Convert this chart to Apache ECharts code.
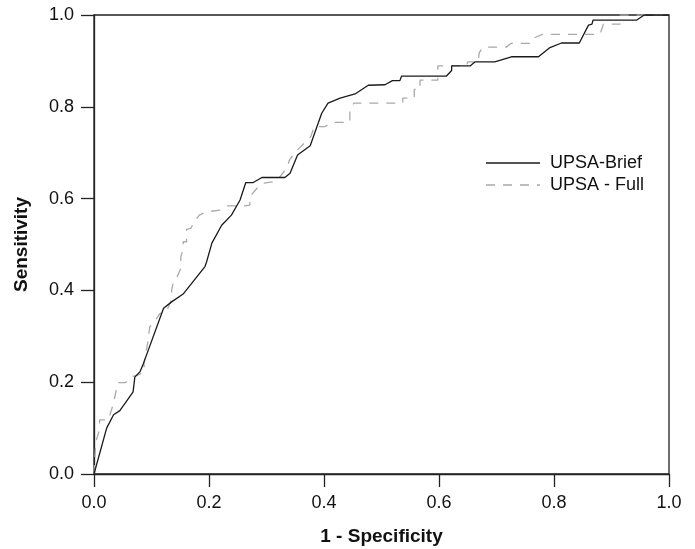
<!DOCTYPE html>
<html>
<head>
<meta charset="utf-8">
<script src="https://cdn.jsdelivr.net/npm/echarts@6/dist/echarts.min.js"></script>
<style>
html,body{margin:0;padding:0;background:#fff;}
#chart{width:695px;height:549px;}
</style>
</head>
<body>
<div id="chart"></div>
<script>
const seriesNames = ["UPSA-Brief", "UPSA - Full"];
const xTickLabels = ["0.0", "0.2", "0.4", "0.6", "0.8", "1.0"];
const yTickLabels = ["0.0", "0.2", "0.4", "0.6", "0.8", "1.0"];

const briefX = [0,0.022,0.034,0.045,0.068,0.071,0.080,0.086,0.121,0.135,0.155,0.193,0.196,0.205,0.222,0.239,0.254,0.264,0.277,0.292,0.332,0.341,0.354,0.376,0.396,0.407,0.428,0.454,0.477,0.506,0.519,0.532,0.535,0.613,0.622,0.622,0.654,0.663,0.697,0.726,0.773,0.793,0.813,0.844,0.860,0.866,0.868,0.944,0.957,1.0];
const briefY = [0,0.100,0.129,0.138,0.179,0.211,0.223,0.241,0.361,0.375,0.392,0.452,0.463,0.503,0.542,0.564,0.597,0.635,0.635,0.646,0.646,0.655,0.695,0.715,0.786,0.808,0.819,0.828,0.847,0.848,0.857,0.857,0.867,0.867,0.879,0.889,0.889,0.898,0.898,0.909,0.909,0.929,0.939,0.939,0.978,0.980,0.989,0.989,1.0,1.0];

const fullX = [0,0.003,0.008,0.010,0.025,0.033,0.040,0.042,0.055,0.063,0.075,0.087,0.087,0.094,0.097,0.103,0.115,0.125,0.135,0.135,0.138,0.143,0.151,0.151,0.155,0.155,0.161,0.161,0.168,0.179,0.183,0.195,0.219,0.232,0.262,0.271,0.271,0.283,0.292,0.315,0.321,0.335,0.340,0.350,0.357,0.370,0.377,0.383,0.402,0.413,0.445,0.445,0.452,0.537,0.537,0.557,0.557,0.567,0.567,0.598,0.598,0.648,0.650,0.668,0.670,0.677,0.717,0.725,0.760,0.767,0.780,0.880,0.886,0.915,0.915,1.0];
const fullY = [0,0.070,0.090,0.118,0.118,0.150,0.190,0.199,0.199,0.211,0.215,0.222,0.241,0.290,0.321,0.328,0.350,0.352,0.380,0.400,0.419,0.425,0.448,0.473,0.490,0.506,0.506,0.533,0.535,0.557,0.564,0.571,0.575,0.584,0.584,0.586,0.604,0.622,0.633,0.637,0.644,0.666,0.684,0.702,0.710,0.726,0.735,0.757,0.757,0.766,0.766,0.793,0.808,0.808,0.819,0.819,0.838,0.838,0.858,0.858,0.889,0.889,0.898,0.898,0.918,0.930,0.930,0.938,0.938,0.951,0.958,0.958,0.980,0.980,1.0,1.0];

const briefData = briefX.map((x, i) => [x, briefY[i]]);
const fullData = fullX.map((x, i) => [x, fullY[i]]);

const FONT = '"Liberation Sans", Arial, Helvetica, sans-serif';
const BRIEF_COLOR = '#1a1a1a';
const FULL_COLOR = '#a9a9a9';
const FULL_DASH = [9, 8];
const chart = echarts.init(document.getElementById('chart'), null, {renderer: 'canvas'});
const axisCommon = {
  type: 'value', min: 0, max: 1, interval: 0.2,
  axisLine: {show: true, lineStyle: {color: '#222', width: 1.3}},
  axisTick: {show: true, inside: false, length: 13, lineStyle: {color: '#222', width: 1.3}},
  splitLine: {show: false},
  nameLocation: 'middle',
  nameTextStyle: {fontFamily: FONT, fontWeight: 'bold', fontSize: 19, color: '#111'}
};
function legendEntry(y, name, color, dash) {
  return [
    {type: 'line', shape: {x1: 486, y1: y, x2: 540, y2: y},
      style: {stroke: color, lineWidth: 1.3, lineDash: dash || null}},
    {type: 'text', x: 550, y: y,
      style: {text: name, font: '18px ' + FONT, fill: '#111', verticalAlign: 'middle', textVerticalAlign: 'middle'}}
  ];
}
chart.setOption({
  animation: false,
  backgroundColor: '#fff',
  grid: {left: 94, top: 15, right: 26, bottom: 75, containLabel: false, outerBoundsMode: 'none',
    show: true, borderColor: '#222', borderWidth: 1.3, backgroundColor: 'transparent'},
  xAxis: Object.assign({}, axisCommon, {
    name: '1 - Specificity', nameGap: 53,
    axisLabel: {margin: 20, fontFamily: FONT, fontSize: 18, color: '#111',
      formatter: v => xTickLabels[Math.round(v / 0.2)]}
  }),
  yAxis: Object.assign({}, axisCommon, {
    name: 'Sensitivity', nameGap: 63,
    axisLabel: {margin: 20, fontFamily: FONT, fontSize: 18, color: '#111',
      formatter: v => yTickLabels[Math.round(v / 0.2)]}
  }),
  graphic: [].concat(
    legendEntry(163, seriesNames[0], BRIEF_COLOR, null),
    legendEntry(185, seriesNames[1], FULL_COLOR, FULL_DASH)
  ),
  series: [
    {name: seriesNames[0], type: 'line', data: briefData, symbol: 'none', z: 3,
      lineStyle: {color: BRIEF_COLOR, width: 1.3}},
    {name: seriesNames[1], type: 'line', data: fullData, symbol: 'none', z: 2,
      lineStyle: {color: FULL_COLOR, width: 1.3, type: FULL_DASH}}
  ]
});
</script>
</body>
</html>
